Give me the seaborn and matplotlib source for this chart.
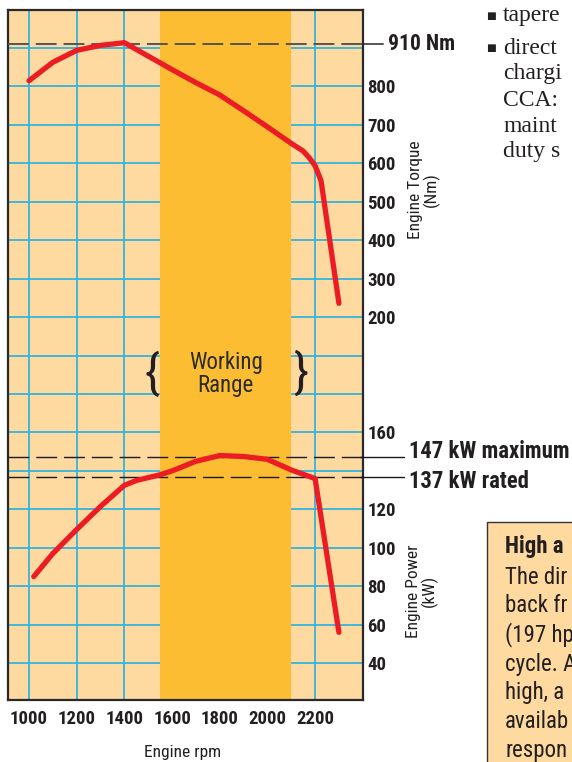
import numpy as np
import pandas as pd
import matplotlib
matplotlib.use('Agg')
import matplotlib.pyplot as plt
from matplotlib import font_manager as fm
from matplotlib.patches import Rectangle
from matplotlib.transforms import blended_transform_factory
import seaborn as sns

# engine curves
rpm_torque = [1000, 1100, 1200, 1300, 1400, 1500, 1600, 1700, 1800, 1900, 2000, 2100, 2150, 2175, 2200, 2225, 2300]
torque_nm = [815, 863, 894, 907, 914, 879, 844, 810, 778, 737, 695, 652, 632, 615, 594, 555, 236]

rpm_power = [1020, 1100, 1200, 1300, 1400, 1450, 1500, 1550, 1600, 1700, 1800, 1900, 2000, 2100, 2200, 2300]
power_kw = [85, 97, 109.5, 121.5, 132.5, 135, 136.5, 138, 140, 145, 148, 147.5, 146, 140.5, 136, 56]

working_range = (1550, 2100)
peak_torque = 910
max_power = 147
rated_power = 137

torque_ticks = [200, 300, 400, 500, 600, 700, 800]
power_ticks = [40, 60, 80, 100, 120, 160]
rpm_ticks = [1000, 1200, 1400, 1600, 1800, 2000, 2200]

side_lines = ['tapere', 'direct', 'chargi', 'CCA:', 'maint', 'duty s']
box_title = 'High a'
box_lines = ['The dir', 'back fr', '(197 hp', 'cycle. A', 'high, a', 'availab', 'respon']


def pick_condensed():
    fonts = fm.fontManager.ttflist
    names = {f.name for f in fonts}
    for p in ['Liberation Sans Narrow', 'Roboto Condensed', 'Open Sans Condensed',
              'Noto Sans Condensed', 'Arial Narrow', 'DejaVu Sans Condensed']:
        if p in names:
            return p, 'normal', True
    for fam in ['DejaVu Sans', 'Roboto', 'Noto Sans', 'Open Sans', 'Inter', 'Lato']:
        if any(f.name == fam and str(f.stretch) in ('condensed', 'semi-condensed', '500', '600', '700')
               and str(f.stretch) != 'normal' for f in fonts):
            return fam, 'condensed', True
    return 'DejaVu Sans', 'normal', False


sns.set_style('white')
COND, STRETCH, OK = pick_condensed()
K = 1.0 if OK else 0.8
plt.rcParams['font.family'] = [COND, 'DejaVu Sans']
plt.rcParams['font.stretch'] = STRETCH
plt.rcParams['lines.scale_dashes'] = False
NARROW = [COND, 'DejaVu Sans']
SERIF = ['Liberation Serif', 'DejaVu Serif']
INK = '#231f20'
RED = '#ec1c24'
GRID = '#33b4dc'

W, H = 572, 762
fig = plt.figure(figsize=(W / 100, H / 100), dpi=100)
fig.patch.set_facecolor('white')


def fx(px):
    return px / W


def fy(py):
    return 1 - py / H


ax = fig.add_axes([fx(8), fy(700), fx(363) - fx(8), fy(10) - fy(700)])
ax2 = ax.twinx()

ax.set_facecolor('#fed9a0')
ax.axvspan(*working_range, color='#fdbd33', lw=0, zorder=0.8)

ax.set_xlim(912, 2401)
ax.set_ylim(-796, 999)
ax2.set_ylim(180 - 796 / 5, 180 + 999 / 5)

# grid
ax.set_xticks(rpm_ticks)
ax.set_xticks(np.arange(950, 2400, 50), minor=True)
ax.set_yticks(torque_ticks)
ax.set_yticks(np.arange(-700, 1000, 100), minor=True)
ax.grid(axis='x', which='major', color=GRID, lw=1.3)
ax.grid(axis='y', which='both', color=GRID, lw=1.3)
ax2.grid(False)

ax.tick_params(axis='x', which='both', direction='in', length=5, width=1, color='#333333',
               labelsize=13.5 * K, pad=7, labelcolor=INK)
for t in ax.get_xticklabels():
    t.set_fontweight('bold')
ax.yaxis.tick_right()
ax.tick_params(axis='y', which='both', length=0, pad=3, labelsize=13.5 * K, labelcolor=INK)
for t in ax.get_yticklabels():
    t.set_fontweight('bold')

ax2.set_yticks(power_ticks)
ax2.tick_params(axis='y', length=0, pad=3, labelsize=13.5 * K, labelcolor=INK)
for t in ax2.get_yticklabels():
    t.set_fontweight('bold')

for s in ax.spines.values():
    s.set_color('#2a2a2a')
    s.set_linewidth(1.6)
for s in ax2.spines.values():
    s.set_visible(False)

# curves
torque_df = pd.DataFrame({'rpm': rpm_torque, 'torque': torque_nm})
power_df = pd.DataFrame({'rpm': rpm_power, 'power': power_kw})
sns.lineplot(data=torque_df, x='rpm', y='torque', ax=ax, color=RED, lw=3.8,
             solid_capstyle='round', solid_joinstyle='round', zorder=5)
sns.lineplot(data=power_df, x='rpm', y='power', ax=ax2, color=RED, lw=3.8,
             solid_capstyle='round', solid_joinstyle='round', zorder=5)
ax.set_xlabel('')
ax.set_ylabel('')
ax2.set_ylabel('')

# reference lines
ax.axhline(peak_torque, color='#555555', lw=1.4, dashes=(15, 5), zorder=4)
ax2.axhline(max_power, color='#1a1a1a', lw=1.0, dashes=(15, 5), zorder=4)
ax2.axhline(rated_power, color='#1a1a1a', lw=1.0, dashes=(15, 5), zorder=4)
tr1 = blended_transform_factory(fig.transFigure, ax.transData)
tr2 = blended_transform_factory(fig.transFigure, ax2.transData)
ax.plot([fx(363), fx(383)], [peak_torque] * 2, transform=tr1, color='#555555', lw=1.4, clip_on=False)
ax2.plot([fx(360), fx(404)], [max_power] * 2, transform=tr2, color='#1a1a1a', lw=1.0, clip_on=False)
ax2.plot([fx(360), fx(404)], [rated_power] * 2, transform=tr2, color='#1a1a1a', lw=1.0, clip_on=False)
ax.text(fx(388), peak_torque, f'{peak_torque} Nm', transform=tr1, ha='left', va='center',
        fontsize=15.5 * K, fontweight='bold', color=INK, family=NARROW)
# the two power labels sit a little apart from their lines in the original
fig.text(fx(409), fy(452), f'{max_power} kW maximum', ha='left', va='center',
         fontsize=16.3 * K, fontweight='bold', color=INK, family=NARROW)
fig.text(fx(409), fy(481), f'{rated_power} kW rated', ha='left', va='center',
         fontsize=16.3 * K, fontweight='bold', color=INK, family=NARROW)

# working range
mid = sum(working_range) / 2
ax.text(mid, 52, 'Working\nRange', ha='center', va='center', fontsize=16.5 * K, color='#2b2b2b',
        linespacing=1.05, family=NARROW, zorder=6)
ax.text(1517, 50, '{', ha='center', va='center', fontsize=35, color=INK, family=NARROW, zorder=6)
ax.text(2137, 50, '}', ha='center', va='center', fontsize=35, color=INK, family=NARROW, zorder=6)

# axis titles
fig.text(fx(424), fy(190), 'Engine Torque\n(Nm)', rotation=90, ha='center', va='center',
         fontsize=12.5 * K, color=INK, family=NARROW, linespacing=1.0)
fig.text(fx(422), fy(591), 'Engine Power\n(kW)', rotation=90, ha='center', va='center',
         fontsize=12.5 * K, color=INK, family=NARROW, linespacing=1.0)
fig.text(fx(183), fy(752), 'Engine rpm', ha='center', va='center', fontsize=12.5 * K, color=INK,
         family=NARROW)

# surrounding page text
side_y = [16, 48, 74, 100, 126, 152]
for i, line in enumerate(side_lines):
    if i < 2:
        fig.text(fx(491), fy(side_y[i]), '\u25a0', ha='center', va='center', fontsize=7.5, color=INK,
                 family=['DejaVu Sans'])
    fig.text(fx(503), fy(side_y[i]), line, ha='left', va='center', fontsize=17, color=INK, family=SERIF)

fig.patches.append(Rectangle((fx(487), fy(790)), fx(120), fy(522) - fy(790), transform=fig.transFigure,
                             facecolor='#fed9a0', edgecolor='#333333', lw=1.0))
fig.text(fx(505), fy(547), box_title, ha='left', va='center', fontsize=16.5 * K, fontweight='bold',
         color=INK, family=NARROW)
for i, line in enumerate(box_lines):
    fig.text(fx(505), fy(577 + 29 * i), line, ha='left', va='center', fontsize=16.5 * K, color=INK,
             family=NARROW)

fig.savefig('out.png', dpi=100)
